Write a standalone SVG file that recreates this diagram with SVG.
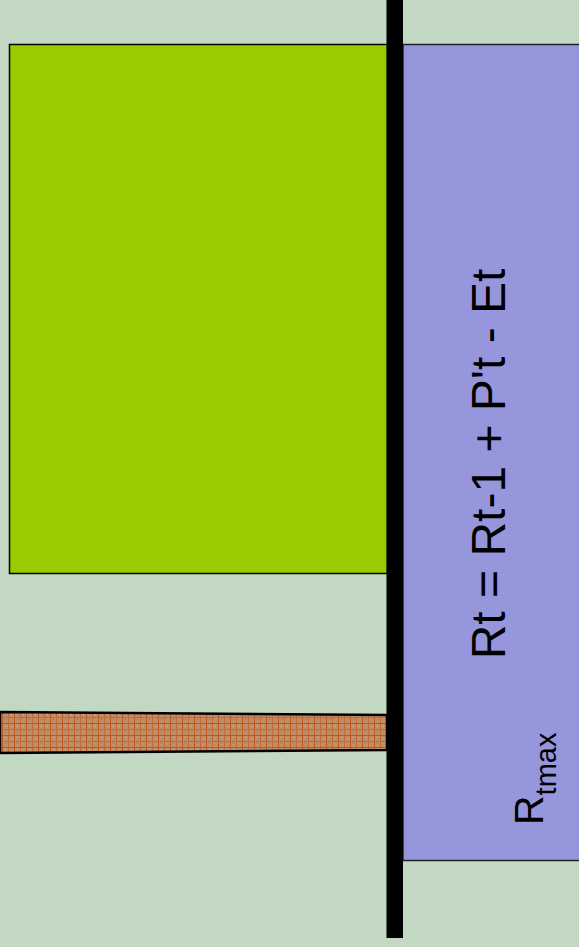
<svg xmlns="http://www.w3.org/2000/svg" width="579" height="947" viewBox="0 0 579 947">
<defs>
<style>
.txt{font-family:"Liberation Sans",Arial,sans-serif;fill:#000}
</style>
<pattern id="plaid" patternUnits="userSpaceOnUse" width="12" height="12">
<rect width="12" height="12" fill="#C08E66"/>
<rect x="2" y="0" width="1" height="12" fill="#BF5620"/>
<rect x="8" y="0" width="1" height="12" fill="#C46A38"/>
<rect x="0" y="3" width="12" height="1" fill="#BF5620"/>
<rect x="0" y="9" width="12" height="1" fill="#C46A38"/>
<rect x="5" y="5" width="1" height="1" fill="#D8B08C"/>
<rect x="11" y="6" width="1" height="1" fill="#D8B08C"/>
<rect x="5" y="11" width="1" height="1" fill="#A87050"/>
</pattern>
</defs>
<rect width="579" height="947" fill="#C2D8C3"/>
<g id="green-box">
<rect x="9.5" y="44.5" width="378" height="529" fill="#99CC00" stroke="#000" stroke-width="1.5"/>
</g>
<g id="purple-box">
<rect x="403" y="44.5" width="180" height="816" fill="#9696DC" stroke="#222" stroke-width="1.5"/>
<text class="txt" font-size="48" text-anchor="middle" transform="translate(505,464) rotate(-90)">Rt = Rt-1 + P't - Et</text>
<text class="txt" transform="translate(543,825) rotate(-90)"><tspan font-size="41">R</tspan><tspan font-size="29" dy="13">tmax</tspan></text>
</g>
<g id="band">
<path d="M0,712 L387,715 L387,750 L0,753 Z" fill="url(#plaid)" stroke="#000" stroke-width="2.5"/>
</g>
<g id="bar">
<rect x="386.5" y="0" width="16.5" height="938" fill="#000"/>
</g>
</svg>
